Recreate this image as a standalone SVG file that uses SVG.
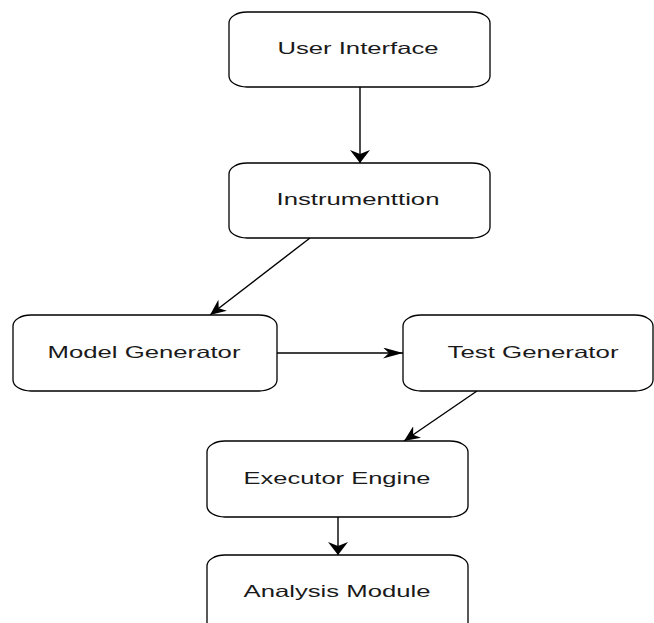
<svg xmlns="http://www.w3.org/2000/svg" width="654" height="623" viewBox="0 0 654 623">
  <style>
    .box { fill: #ffffff; stroke: #000000; stroke-width: 1.3; }
    .lbl { font-family: "Liberation Sans", Arial, sans-serif; font-size: 16.5px; fill: #1a1a1a; text-anchor: middle; }
    .edge { fill: none; stroke: #000000; stroke-width: 1.4; }
  </style>
  <defs>
    <marker id="arrowV" markerUnits="userSpaceOnUse" viewBox="0 -10 13 20" markerWidth="13" markerHeight="20" refX="13" refY="0" orient="auto">
      <path d="M13,0 L0,-10 L4,0 L0,10 Z" fill="#000"/>
    </marker>
    <marker id="arrowH" markerUnits="userSpaceOnUse" viewBox="0 -5.5 20 11" markerWidth="20" markerHeight="11" refX="20" refY="0" orient="auto">
      <path d="M20,0 L0,-5.5 L6,0 L0,5.5 Z" fill="#000"/>
    </marker>
    <marker id="arrowD" markerUnits="userSpaceOnUse" viewBox="0 -7 16 14" markerWidth="16" markerHeight="14" refX="16" refY="0" orient="auto">
      <path d="M16,0 L0,-7 L5,0 L0,7 Z" fill="#000"/>
    </marker>
  </defs>
  <rect width="654" height="623" fill="#ffffff"/>

  <g id="connectors">
    <line class="edge" x1="360" y1="87" x2="360" y2="163" marker-end="url(#arrowV)"/>
    <line class="edge" x1="310" y1="238" x2="210" y2="315" marker-end="url(#arrowD)"/>
    <line class="edge" x1="277" y1="353" x2="403" y2="353" marker-end="url(#arrowH)"/>
    <line class="edge" x1="477" y1="391" x2="404" y2="441" marker-end="url(#arrowD)"/>
    <line class="edge" x1="338" y1="517" x2="338" y2="555" marker-end="url(#arrowV)"/>
  </g>

  <g id="user-interface">
    <rect class="box" x="229" y="12" width="261" height="75" rx="18" ry="11"/>
    <text class="lbl" x="358" y="54" textLength="161" lengthAdjust="spacingAndGlyphs">User Interface</text>
  </g>
  <g id="instrumenttion">
    <rect class="box" x="229" y="163" width="261" height="75" rx="18" ry="11"/>
    <text class="lbl" x="358" y="205" textLength="163" lengthAdjust="spacingAndGlyphs">Instrumenttion</text>
  </g>
  <g id="model-generator">
    <rect class="box" x="13" y="315" width="264" height="76" rx="18" ry="11"/>
    <text class="lbl" x="144" y="358" textLength="193" lengthAdjust="spacingAndGlyphs">Model Generator</text>
  </g>
  <g id="test-generator">
    <rect class="box" x="403" y="315" width="250" height="76" rx="18" ry="11"/>
    <text class="lbl" x="533" y="358" textLength="171" lengthAdjust="spacingAndGlyphs">Test Generator</text>
  </g>
  <g id="executor-engine">
    <rect class="box" x="207" y="441" width="261" height="76" rx="18" ry="11"/>
    <text class="lbl" x="337" y="484" textLength="187" lengthAdjust="spacingAndGlyphs">Executor Engine</text>
  </g>
  <g id="analysis-module">
    <rect class="box" x="207" y="555" width="261" height="90" rx="18" ry="11"/>
    <text class="lbl" x="337" y="597" textLength="187" lengthAdjust="spacingAndGlyphs">Analysis Module</text>
  </g>
</svg>
